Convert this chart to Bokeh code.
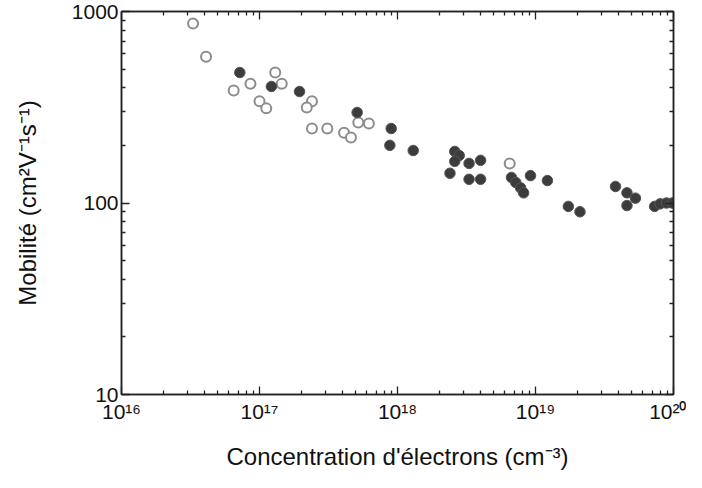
from bokeh.plotting import figure
from bokeh.models import LogAxis, FixedTicker, ColumnDataSource, CustomJSTickFormatter
from bokeh.embed import file_html
from bokeh.resources import INLINE

# ---- data ----
open_conc = [3.3e16, 4.1e16, 1.3e17, 8.6e16, 1.45e17, 6.5e16, 1.0e17, 1.12e17, 2.4e17,
             2.2e17, 5.2e17, 6.2e17, 2.4e17, 3.1e17, 4.1e17, 4.6e17, 6.5e18]
open_mob = [865, 580, 480, 420, 420, 387, 340, 312, 340, 315, 263, 260, 245, 245, 233, 220, 161]

filled_conc = [7.2e16, 1.22e17, 1.95e17, 5.1e17, 9.0e17, 8.8e17, 1.3e18, 2.6e18, 2.8e18,
               2.6e18, 3.3e18, 4.0e18, 2.4e18, 3.3e18, 4.0e18, 6.7e18, 7.2e18, 7.8e18,
               8.2e18, 9.2e18, 1.22e19, 1.73e19, 2.1e19, 3.8e19, 4.6e19, 5.3e19, 4.6e19,
               7.3e19, 8.0e19, 8.9e19, 9.8e19]
filled_mob = [480, 406, 382, 297, 245, 200, 188, 186, 177, 165, 161, 167, 143, 133, 133,
              136, 128, 120, 113, 139, 131, 96, 90, 122, 113, 106, 97, 96, 99, 100, 100]

x_major = [1e16, 1e17, 1e18, 1e19, 1e20]
x_labels = ["10¹⁶", "10¹⁷", "10¹⁸", "10¹⁹", "10²⁰"]
y_major = [10, 100, 1000]
y_labels = ["10", "100", "1000"]

x_minor = [m * d for d in [1e16, 1e17, 1e18, 1e19] for m in range(2, 10)]
y_minor = [m * d for d in [10, 100] for m in range(2, 10)]

FONT = "Liberation Sans"

p = figure(width=686, height=472, x_axis_type="log", y_axis_type="log",
           x_range=(1e16, 1e20), y_range=(10, 1000),
           output_backend="svg", toolbar_location=None,
           min_border_left=121, min_border_top=11, min_border_right=13, min_border_bottom=78)
p.grid.visible = False
p.outline_line_color = "#222222"
p.outline_line_width = 1.5
p.background_fill_color = "white"
p.border_fill_color = "white"

JS = """
for (let i = 0; i < majors.length; i++) {
    if (Math.abs(Math.log10(majors[i]) - Math.log10(tick)) < 1e-6) return labs[i];
}
return "";
"""

def style_axis(ax, ticks, minor, labels=None, show=True):
    ax.ticker = FixedTicker(ticks=ticks, minor_ticks=minor)
    ax.axis_line_color = "#222222"
    ax.axis_line_width = 1.5
    ax.major_tick_line_color = "#222222"
    ax.minor_tick_line_color = "#222222"
    ax.major_tick_line_width = 1.3
    ax.minor_tick_line_width = 1.3
    ax.major_tick_in = 8
    ax.major_tick_out = 0
    ax.minor_tick_in = 4
    ax.minor_tick_out = 0
    if show:
        ax.formatter = CustomJSTickFormatter(args=dict(majors=ticks, labs=labels), code=JS)
        ax.major_label_text_font = FONT
        ax.major_label_text_font_size = "21px"
        ax.major_label_text_color = "#111111"
        ax.axis_label_text_font = FONT
        ax.axis_label_text_font_style = "normal"
        ax.axis_label_text_color = "#111111"
    else:
        ax.major_label_text_font_size = "1px"
        ax.major_label_text_alpha = 0
        ax.major_label_standoff = 0

xa = p.xaxis[0]
style_axis(xa, x_major, x_minor, x_labels)
xa.major_label_standoff = 5
xa.axis_label = "Concentration d'électrons (cm⁻³)"
xa.axis_label_text_font_size = "24px"
xa.axis_label_standoff = 17

ya = p.yaxis[0]
style_axis(ya, y_major, y_minor, y_labels)
ya.major_label_standoff = 3
ya.axis_label = "Mobilité (cm²V⁻¹s⁻¹)"
ya.axis_label_text_font_size = "24px"
ya.axis_label_standoff = 28

top = LogAxis()
style_axis(top, x_major, x_minor, show=False)
p.add_layout(top, "above")
right = LogAxis()
style_axis(right, y_major, y_minor, show=False)
p.add_layout(right, "right")

src_open = ColumnDataSource(dict(x=open_conc, y=open_mob))
src_fill = ColumnDataSource(dict(x=filled_conc, y=filled_mob))

p.scatter("x", "y", source=src_open, marker="circle", size=10,
          fill_color="white", line_color="#8c8c8c", line_width=2)
p.scatter("x", "y", source=src_fill, marker="circle", size=10.5,
          fill_color="#3c3c3c", line_color="#555555", line_width=1)

open("out.html", "w").write(file_html(p, INLINE))
